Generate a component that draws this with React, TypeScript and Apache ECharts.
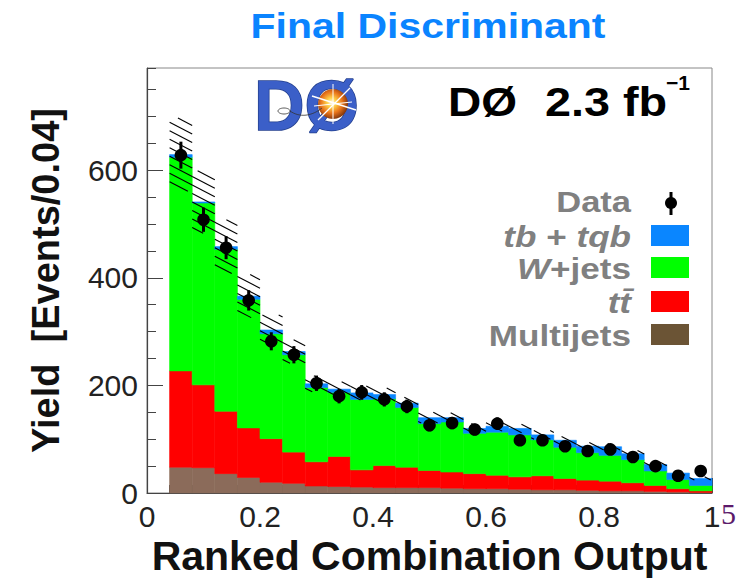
import React, { useEffect, useRef } from "react";
import * as echarts from "echarts";

// Bin lower edges of the ranked combination output (width 0.04)
const binStart = [
  0.04, 0.08, 0.12, 0.16, 0.2, 0.24, 0.28, 0.32, 0.36, 0.4, 0.44, 0.48,
  0.52, 0.56, 0.6, 0.64, 0.68, 0.72, 0.76, 0.8, 0.84, 0.88, 0.92, 0.96,
];
const BIN_WIDTH = 0.04;

// Stacked components (events per bin), bottom to top
const multijets = [48, 47, 36, 29, 20, 18, 13, 12, 11, 10, 10, 10, 9, 8, 8, 7, 6, 6, 5, 4, 4, 3, 2, 1];
const ttbar = [179, 154, 116, 92, 81, 58, 45, 56, 32, 41, 38, 32, 30, 28, 25, 23, 26, 21, 19, 18, 15, 11, 6, 3];
const wjets = [397, 338, 301, 239, 195, 181, 138, 119, 131, 124, 111, 87, 93, 75, 80, 78, 67, 58, 51, 48, 43, 27, 17, 10];
const singleTop = [5, 2, 5, 6, 7, 6, 7, 6, 12, 8, 8, 11, 8, 9, 11, 12, 9, 13, 12, 16, 11, 12, 12, 13];

// Observed data
const dataCounts = [628, 508, 456, 358, 282, 257, 204, 180, 187, 174, 161, 126, 130, 118, 129, 98, 98, 87, 78, 81, 67, 50, 32, 41];

// Half-width of the hatched background uncertainty band
const bkgUncertainty = [68, 58, 50, 40, 28, 22, 15, 14, 13, 12, 11, 10, 9, 9, 9, 8, 8, 7, 7, 6, 6, 5, 4, 3];

const FONT = "'Liberation Sans', Arial, Helvetica, sans-serif";

const components = [
  { name: "Multijets", values: multijets, color: "#8b6b5a" },
  { name: "ttbar", values: ttbar, color: "#ff0000" },
  { name: "W+jets", values: wjets, color: "#00ff00" },
  { name: "tb+tqb", values: singleTop, color: "#0a86ff" },
];

function rectRender(color: string) {
  return (params: any, api: any) => {
    const a = api.coord([api.value(0), api.value(3)]);
    const b = api.coord([api.value(1), api.value(2)]);
    return {
      type: "rect",
      shape: { x: a[0], y: a[1], width: b[0] - a[0], height: b[1] - a[1] },
      style: { fill: color, stroke: color, lineWidth: 0.6 },
    };
  };
}

function hatchRender(params: any, api: any) {
  const a = api.coord([api.value(0), api.value(3)]);
  const b = api.coord([api.value(1), api.value(2)]);
  const X0 = a[0], Y0 = a[1], X1 = b[0], Y1 = b[1];
  const k = 0.52;
  const sp = 8.5;
  const children: any[] = [];
  const cMin = Y0 - k * X1;
  const cMax = Y1 - k * X0;
  for (let c = Math.ceil(cMin / sp) * sp; c <= cMax; c += sp) {
    const xa = Math.max(X0, (Y0 - c) / k);
    const xb = Math.min(X1, (Y1 - c) / k);
    if (xb - xa < 2) continue;
    children.push({
      type: "line",
      shape: { x1: xa, y1: k * xa + c, x2: xb, y2: k * xb + c },
      style: { stroke: "#000", lineWidth: 1.1 },
    });
  }
  return { type: "group", children };
}

function dataRender(params: any, api: any) {
  const x = api.value(0);
  const v = api.value(1);
  const err = Math.sqrt(v);
  const lo = api.coord([x, v - err]);
  const hi = api.coord([x, v + err]);
  const c = api.coord([x, v]);
  return {
    type: "group",
    children: [
      { type: "line", shape: { x1: lo[0], y1: lo[1], x2: hi[0], y2: hi[1] }, style: { stroke: "#000", lineWidth: 3 } },
      { type: "circle", shape: { cx: c[0], cy: c[1], r: 6.3 }, style: { fill: "#000" } },
    ],
  };
}

export default function App() {
  const ref = useRef<HTMLDivElement>(null);

  useEffect(() => {
    document.body.style.margin = "0";
    const chart = echarts.init(ref.current as HTMLDivElement, undefined, { renderer: "svg" });

    let base = binStart.map(() => 0);
    const stackSeries = components.map((c, ci) => {
      const items = binStart.map((s, i) => [s, s + BIN_WIDTH, base[i], base[i] + c.values[i]]);
      base = base.map((b, i) => b + c.values[i]);
      return {
        type: "custom",
        name: c.name,
        renderItem: rectRender(c.color),
        data: items,
        encode: { x: [0, 1], y: [2, 3] },
        z: 2 + ci * 0.01,
        silent: true,
      };
    });
    const totals = base;
    const bandItems = binStart.map((s, i) => [s, s + BIN_WIDTH, totals[i] - bkgUncertainty[i], totals[i] + bkgUncertainty[i]]);
    const dataItems = binStart.map((s, i) => [s + BIN_WIDTH / 2, dataCounts[i]]);

    const grey = "#808080";
    const legendFont = { fontSize: 30, fontWeight: "bold", fontFamily: FONT, fill: grey };
    const legendRows = [
      { y: 236, text: "{i|tb} + {i|tqb}", color: "#0a86ff" },
      { y: 268, text: "{i|W}+jets", color: "#00ff00" },
      { y: 302, text: "{i|t\u0074\u0304}", color: "#ff0000" },
      { y: 335, text: "Multijets", color: "#6b5435" },
    ];

    const graphic: any[] = [
      {
        type: "text", x: 428, y: 26, scaleX: 1.17,
        style: { text: "Final Discriminant", fontSize: 35, fontWeight: "bold", fontFamily: FONT, fill: "#0a84ff", align: "center", verticalAlign: "middle" },
      },
      // DØ logo approximation
      {
        type: "text", x: 254, y: 106,
        style: { text: "DØ", fontSize: 70, fontWeight: 900, fontFamily: FONT, fill: "#3b5fc8", stroke: "#24408e", lineWidth: 1.5, align: "left", verticalAlign: "middle" },
      },
      {
        type: "circle", shape: { cx: 333, cy: 104, r: 15 },
        style: {
          fill: new echarts.graphic.RadialGradient(0.45, 0.45, 0.6, [
            { offset: 0, color: "#fffbe6" },
            { offset: 0.25, color: "#ffd24a" },
            { offset: 0.6, color: "#e8731a" },
            { offset: 1, color: "#6e2a0a" },
          ]),
        },
      },
      { type: "line", shape: { x1: 312, y1: 96, x2: 356, y2: 110 }, style: { stroke: "#fff", lineWidth: 1.4 } },
      { type: "line", shape: { x1: 318, y1: 120, x2: 350, y2: 88 }, style: { stroke: "#fff", lineWidth: 1.2 } },
      { type: "line", shape: { x1: 333, y1: 84, x2: 333, y2: 124 }, style: { stroke: "#fff", lineWidth: 1 } },
      { type: "line", shape: { x1: 314, y1: 106, x2: 352, y2: 102 }, style: { stroke: "#fff", lineWidth: 1 } },
      { type: "ellipse", shape: { cx: 284, cy: 111, rx: 6, ry: 3 }, style: { fill: "none", stroke: "#333", lineWidth: 0.8 } },
      { type: "bezierCurve", shape: { x1: 290, y1: 111, x2: 322, y2: 108, cpx1: 300, cpy1: 118, cpx2: 312, cpy2: 116 }, style: { fill: "none", stroke: "#333", lineWidth: 0.8 } },
      // DØ 2.3 fb-1
      {
        type: "text", x: 448, y: 102, scaleX: 1.15,
        style: { text: "DØ", fontSize: 40, fontWeight: "bold", fontFamily: FONT, fill: "#000", align: "left", verticalAlign: "middle" },
      },
      {
        type: "text", x: 545, y: 102, scaleX: 1.17,
        style: { text: "2.3 fb", fontSize: 40, fontWeight: "bold", fontFamily: FONT, fill: "#000", align: "left", verticalAlign: "middle" },
      },
      {
        type: "text", x: 666, y: 82,
        style: { text: "\u22121", fontSize: 21, fontWeight: "bold", fontFamily: FONT, fill: "#000", align: "left", verticalAlign: "middle" },
      },
      // Legend
      {
        type: "text", x: 631, y: 202, scaleX: 1.15,
        style: { text: "Data", ...legendFont, align: "right", verticalAlign: "middle" },
      },
      { type: "line", shape: { x1: 671, y1: 192, x2: 671, y2: 215 }, style: { stroke: "#000", lineWidth: 3 } },
      { type: "circle", shape: { cx: 671, cy: 203, r: 6 }, style: { fill: "#000" } },
      ...legendRows.flatMap((r) => [
        {
          type: "text", x: 631, y: r.y, scaleX: 1.17,
          style: {
            text: r.text, ...legendFont, align: "right", verticalAlign: "middle",
            rich: { i: { fontStyle: "italic", fontSize: 30, fontWeight: "bold", fontFamily: FONT, fill: grey } },
          },
        },
        { type: "rect", shape: { x: 651, y: r.y - 11, width: 38, height: 21 }, style: { fill: r.color } },
      ]),
      {
        type: "text", x: 721, y: 513,
        style: { text: "5", fontSize: 30, fontFamily: "'Liberation Serif', 'Times New Roman', serif", fill: "#5c1a6b", align: "left", verticalAlign: "middle" },
      },
    ];

    const option: any = {
      animation: false,
      backgroundColor: "#ffffff",
      grid: { left: 147, right: 28, top: 68, bottom: 91, show: true, borderColor: "#888", borderWidth: 1, backgroundColor: "transparent" },
      xAxis: {
        type: "value", min: 0, max: 1, interval: 0.2,
        axisLine: { show: true, lineStyle: { color: "#444", width: 1.2 } },
        axisTick: { show: true, inside: true, length: 15, lineStyle: { color: "#444" } },
        minorTick: { show: true, splitNumber: 5, length: 8, lineStyle: { color: "#444" } },
        axisLabel: { fontSize: 30, color: "#222", margin: 8, fontFamily: FONT },
        splitLine: { show: false },
        minorSplitLine: { show: false },
        name: "Ranked Combination Output", nameLocation: "middle", nameGap: 40,
        nameTextStyle: { fontSize: 41, fontWeight: "bold", color: "#111", fontFamily: FONT },
      },
      yAxis: [
        {
          type: "value", min: 0, max: 790, interval: 200, position: "left",
          axisLine: { show: true, lineStyle: { color: "#444", width: 1.2 } },
          axisTick: { show: true, inside: true, length: 16, lineStyle: { color: "#444" } },
          axisLabel: { fontSize: 30, color: "#222", margin: 9, showMaxLabel: false, fontFamily: FONT },
          splitLine: { show: false },
          name: "Yield  [Events/0.04]", nameLocation: "middle", nameGap: 82, nameRotate: 90,
          nameTextStyle: { fontSize: 38, fontWeight: "bold", color: "#111", fontFamily: FONT },
        },
        {
          type: "value", min: 0, max: 790, interval: 50, position: "left", offset: 0,
          axisLine: { show: false },
          axisTick: { show: true, inside: true, length: 9, lineStyle: { color: "#444" } },
          axisLabel: { show: false },
          splitLine: { show: false },
        },
      ],
      series: [
        ...stackSeries,
        {
          type: "custom", name: "Uncertainty", renderItem: hatchRender, data: bandItems,
          encode: { x: [0, 1], y: [2, 3] }, z: 3, silent: true,
        },
        {
          type: "custom", name: "Data", renderItem: dataRender, data: dataItems,
          encode: { x: 0, y: 1 }, z: 4, silent: true,
        },
      ],
      graphic,
    };
    chart.setOption(option);
    return () => chart.dispose();
  }, []);

  return <div ref={ref} style={{ position: "fixed", left: 0, top: 0, width: 740, height: 584 }} />;
}
